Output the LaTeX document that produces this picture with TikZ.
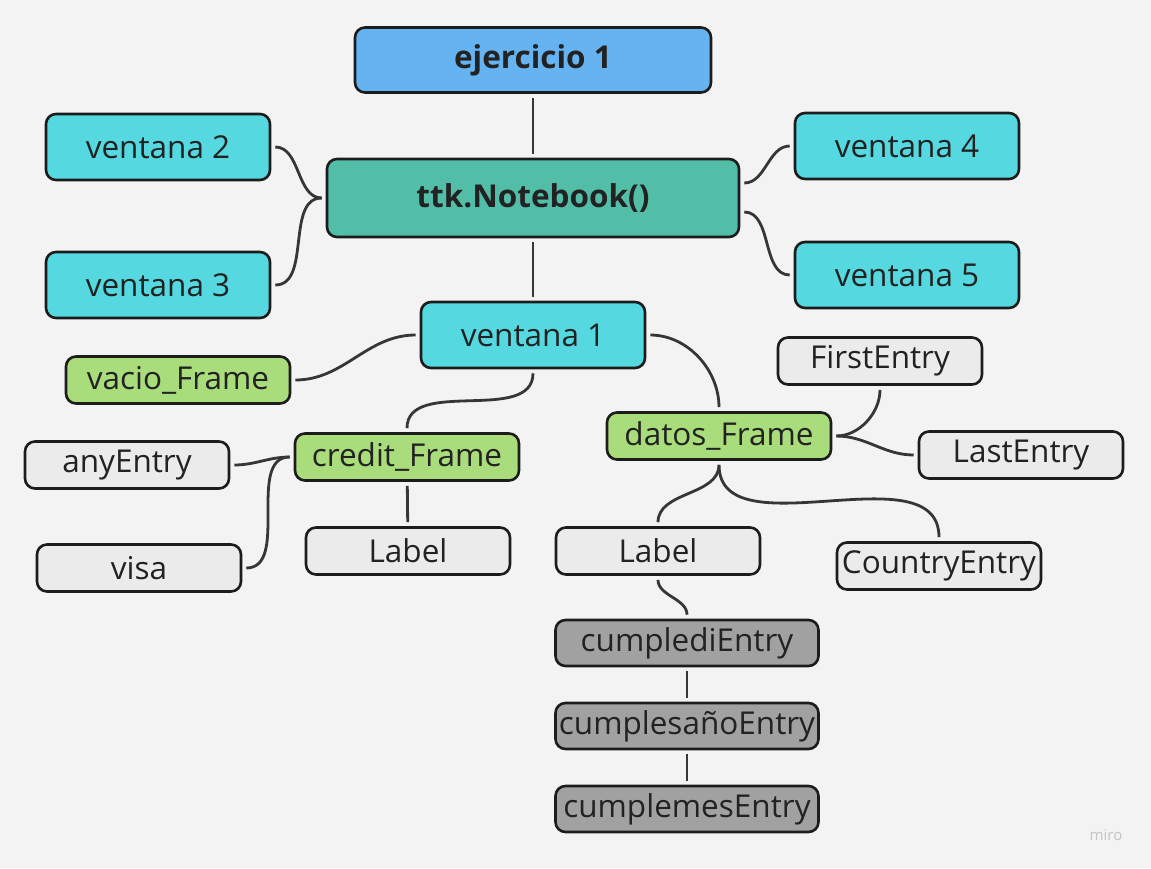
\documentclass[tikz,border=0pt]{standalone}
\usepackage{fontspec}
\setmainfont{Open Sans}
\definecolor{bgcol}{HTML}{F3F3F3}
\definecolor{boxline}{HTML}{1C1C1C}
\definecolor{linecol}{HTML}{363636}
\definecolor{txtcol}{HTML}{222222}
\definecolor{rootblue}{HTML}{66B3F1}
\definecolor{nbteal}{HTML}{52BEA8}
\definecolor{wincyan}{HTML}{55D8E0}
\definecolor{framegreen}{HTML}{A9DC7B}
\definecolor{entrygray}{HTML}{EBEBEB}
\definecolor{cumplegray}{HTML}{A1A1A1}
\definecolor{mirogray}{HTML}{C4C4C4}
\tikzset{
	box/.style={draw=boxline, line width=2.6pt, rounded corners=10pt, text=txtcol, inner sep=0pt, font=\fontsize{31.5}{36}\selectfont},
	rootbox/.style={box, fill=rootblue, minimum width=356pt, minimum height=65pt, font=\fontsize{31.5}{36}\selectfont\bfseries},
	nbbox/.style={box, fill=nbteal, minimum width=412pt, minimum height=78pt, font=\fontsize{31.5}{36}\selectfont\bfseries},
	winbox/.style={box, fill=wincyan, minimum width=224pt, minimum height=66pt},
	framebox/.style={box, fill=framegreen, minimum width=224pt, minimum height=47pt},
	entrybox/.style={box, fill=entrygray, minimum width=204pt, minimum height=47pt},
	cumplebox/.style={box, fill=cumplegray, minimum width=263pt, minimum height=46pt},
	link/.style={draw=linecol, line width=2.8pt, shorten <=4pt, shorten >=4pt},
}
\begin{document}
\begin{tikzpicture}[x=1pt, y=-1pt]
	\useasboundingbox [fill=bgcol] (0,0) rectangle (1151,868);
	\node (ejercicio) [rootbox] at (533,60) {ejercicio 1};
	\node (notebook) [nbbox] at (533,198) {ttk.Notebook()};
	\node (ventanaB) [winbox] at (158,147) {ventana 2};
	\node (ventanaC) [winbox] at (158,285) {ventana 3};
	\node (ventanaD) [winbox] at (907,146) {ventana 4};
	\node (ventanaE) [winbox] at (907,275) {ventana 5};
	\node (ventanaA) [winbox] at (533,335) {ventana 1};
	\node (vacio) [framebox] at (178,380) {vacio\_Frame};
	\node (credit) [framebox] at (407,457) {credit\_Frame};
	\node (datos) [framebox] at (719,436) {datos\_Frame};
	\node (first) [entrybox] at (880,361) {FirstEntry};
	\node (last) [entrybox] at (1021,455) {LastEntry};
	\node (any) [entrybox] at (127,465) {anyEntry};
	\node (visa) [entrybox] at (139,568) {visa};
	\node (labelA) [entrybox] at (408,551) {Label};
	\node (labelB) [entrybox] at (658,551) {Label};
	\node (country) [entrybox] at (939,566) {CountryEntry};
	\node (cumpledi) [cumplebox] at (687,643) {cumplediEntry};
	\node (cumpleano) [cumplebox] at (687,726) {cumplesañoEntry};
	\node (cumplemes) [cumplebox] at (687,809) {cumplemesEntry};
	\node (miro) [text=mirogray, font=\fontsize{15}{17}\selectfont] at (1106,835) {miro};
	\draw [link] (ejercicio) -- (notebook);
	\draw [link] (notebook.west) to[out=180, in=0] (ventanaB.east);
	\draw [link] (notebook.west) to[out=180, in=0] (ventanaC.east);
	\draw [link] ([yshift=15pt]notebook.east) to[out=0, in=180] (ventanaD.west);
	\draw [link] ([yshift=-14pt]notebook.east) to[out=0, in=180] (ventanaE.west);
	\draw [link] (notebook) -- (ventanaA);
	\draw [link] (ventanaA.west) to[out=180, in=0] (vacio.east);
	\draw [link] (ventanaA.south) to[out=-90, in=90] (credit.north);
	\draw [link] (ventanaA.east) to[out=0, in=90] (datos.north);
	\draw [link] (datos.east) to[out=0, in=-90] (first.south);
	\draw [link] (datos.east) to[out=0, in=180] (last.west);
	\draw [link] (credit.west) to[out=180, in=0] (any.east);
	\draw [link] (credit.west) to[out=180, in=0] (visa.east);
	\draw [link] (credit) -- (labelA);
	\draw [link] (datos.south) to[out=-90, in=90] (labelB.north);
	\draw [link] (datos.south) to[out=-90, in=90] (country.north);
	\draw [link] (labelB.south) to[out=-90, in=90] (cumpledi.north);
	\draw [link] (cumpledi) -- (cumpleano);
	\draw [link] (cumpleano) -- (cumplemes);
\end{tikzpicture}
\end{document}
